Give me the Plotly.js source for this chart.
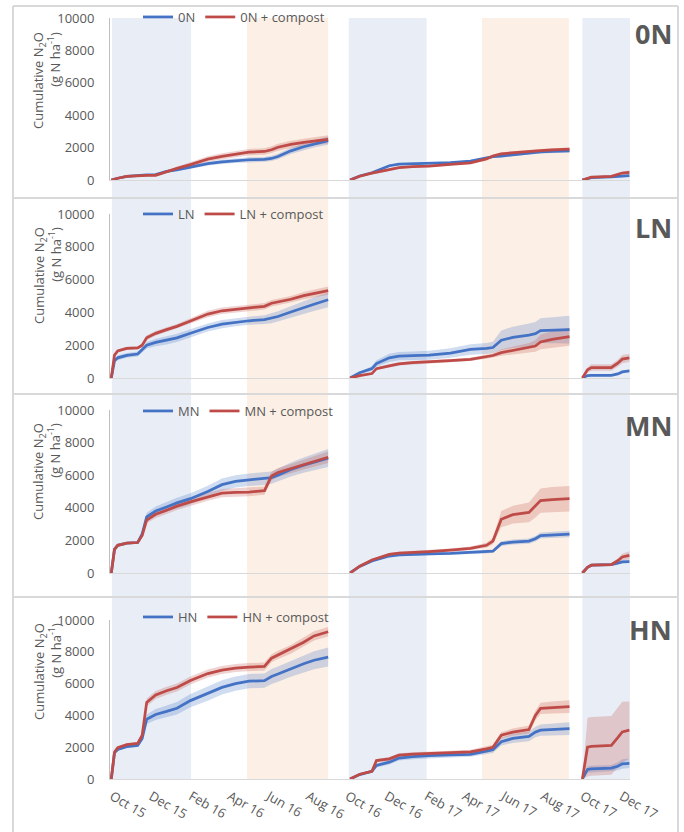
<!DOCTYPE html>
<html>
<head>
<meta charset="utf-8">
<script src="https://cdn.plot.ly/plotly-3.0.1.min.js"></script>
<style>html,body{margin:0;padding:0;background:#fff;}#chart{width:684px;height:832px;}</style>
</head>
<body>
<div id="chart"></div>
<script>
// ---------------- DATA ----------------
const treatments = ['0N', 'LN', 'MN', 'HN'];
const compostSuffix = ' + compost';

const season1Dates = ['2015-09-30','2015-10-05','2015-10-10','2015-10-24','2015-11-10','2015-11-17','2015-11-24','2015-12-08','2015-12-25','2016-01-10','2016-01-31','2016-02-27','2016-03-20','2016-04-10','2016-05-01','2016-05-25','2016-06-05','2016-06-15','2016-07-05','2016-07-25','2016-08-10','2016-09-01'];
const season2Dates = ['2016-10-05','2016-10-20','2016-11-08','2016-11-15','2016-12-05','2016-12-20','2017-01-10','2017-02-05','2017-03-10','2017-04-10','2017-05-05','2017-05-15','2017-05-28','2017-06-15','2017-07-10','2017-07-20','2017-07-28','2017-08-15','2017-09-11'];
const season3Dates = ['2017-10-01','2017-10-09','2017-10-15','2017-11-15','2017-11-25','2017-12-02','2017-12-13'];

// winter (blue) and summer (orange) periods
const winterStart = ['2015-10-01','2016-10-03','2017-10-01'];
const winterEnd   = ['2016-02-01','2017-02-01','2017-12-14'];
const summerStart = ['2016-04-28','2017-04-28'];
const summerEnd   = ['2016-09-01','2017-09-10'];

// ---- 0N ----
const n0_s1   = [0,60,110,220,290,300,310,330,530,620,800,1010,1120,1190,1250,1270,1330,1450,1800,2050,2230,2430];
const n0_s1se = [0,20,30,40,50,50,50,50,70,80,100,120,130,140,150,150,160,170,190,210,230,250];
const n0c_s1   = [0,60,110,220,280,290,290,290,520,720,950,1290,1460,1600,1720,1760,1870,2020,2200,2320,2400,2510];
const n0c_s1se = [0,20,30,40,50,50,50,60,80,100,130,170,190,200,200,200,210,220,230,230,240,250];
const n0_s2   = [0,250,450,560,880,980,1000,1030,1070,1170,1350,1440,1480,1560,1660,1700,1730,1770,1790];
const n0_s2se = [0,30,50,50,60,60,60,60,60,70,80,80,80,80,90,90,90,90,90];
const n0c_s2   = [0,230,420,470,620,760,820,860,960,1060,1300,1480,1620,1690,1760,1790,1820,1860,1910];
const n0c_s2se = [0,30,50,50,60,60,60,60,60,70,80,90,90,90,90,90,90,100,100];
const n0_s3   = [0,100,150,200,210,230,270];
const n0_s3se = [0,30,40,50,50,60,70];
const n0c_s3   = [0,110,180,230,330,430,470];
const n0c_s3se = [0,30,50,60,80,100,120];

// ---- LN ----
const ln_s1   = [0,1050,1230,1380,1460,1700,2000,2170,2300,2450,2730,3080,3280,3400,3490,3560,3640,3750,4020,4300,4500,4770];
const ln_s1se = [0,100,150,150,150,150,200,230,250,250,250,250,250,250,250,270,300,320,350,400,420,450];
const lnc_s1   = [0,1400,1650,1800,1840,2000,2450,2720,2950,3150,3480,3900,4100,4200,4270,4370,4560,4640,4800,5020,5170,5330];
const lnc_s1se = [0,100,100,100,100,120,150,150,150,150,170,200,200,200,200,200,200,200,200,220,230,250];
const ln_s2   = [0,320,570,880,1230,1330,1360,1390,1520,1740,1800,1860,2300,2480,2620,2700,2890,2920,2950];
const ln_s2se = [0,80,150,200,250,250,260,270,290,320,340,350,600,650,700,720,750,800,850];
const lnc_s2   = [0,140,270,570,740,860,940,980,1060,1130,1300,1370,1550,1680,1840,1950,2200,2350,2520];
const lnc_s2se = [0,50,60,80,100,100,100,100,100,100,120,130,200,250,300,350,450,500,550];
const ln_s3   = [0,150,160,160,250,370,430];
const ln_s3se = [0,30,40,40,50,60,70];
const lnc_s3   = [0,500,640,640,900,1150,1230];
const lnc_s3se = [0,150,200,200,220,250,250];

// ---- MN ----
const mn_s1   = [0,1450,1700,1830,1870,2400,3450,3800,4050,4300,4560,5000,5420,5620,5720,5780,5850,6000,6350,6620,6800,7050];
const mn_s1se = [0,50,50,50,60,150,250,280,300,320,330,350,380,380,380,380,380,400,430,470,500,550];
const mnc_s1   = [0,1450,1700,1830,1870,2300,3250,3600,3850,4100,4360,4680,4900,4950,4960,5050,5950,6170,6400,6650,6850,7100];
const mnc_s1se = [0,50,50,50,60,120,200,220,230,230,230,250,250,250,250,250,260,270,280,300,320,350];
const mn_s2   = [0,400,740,830,1040,1110,1150,1180,1210,1250,1290,1340,1800,1900,1960,2100,2300,2340,2390];
const mn_s2se = [0,40,60,60,80,80,80,80,80,90,100,100,150,150,160,170,180,190,200];
const mnc_s2   = [0,420,800,890,1140,1220,1280,1310,1400,1510,1700,1960,3300,3580,3720,4100,4440,4500,4560];
const mnc_s2se = [0,40,60,70,80,80,80,90,100,120,150,200,500,550,600,700,750,770,780];
const mn_s3   = [0,350,480,520,600,680,700];
const mn_s3se = [0,50,60,60,70,80,80];
const mnc_s3   = [0,350,480,520,750,980,1080];
const mnc_s3se = [0,60,80,80,150,200,250];

// ---- HN ----
const hn_s1   = [0,1650,1860,2030,2110,2550,3760,4060,4250,4450,4930,5370,5760,6000,6150,6190,6450,6600,6930,7250,7470,7670];
const hn_s1se = [0,60,80,80,80,150,300,350,380,400,420,450,450,450,450,450,470,480,500,540,560,600];
const hnc_s1   = [0,1700,1970,2160,2240,2750,4820,5280,5550,5750,6190,6630,6850,6980,7040,7080,7600,7800,8150,8600,9000,9260];
const hnc_s1se = [0,60,80,80,80,120,250,250,250,250,250,250,250,250,250,250,250,260,270,280,290,300];
const hn_s2   = [0,280,480,850,1060,1320,1400,1470,1510,1550,1750,1840,2350,2550,2680,2950,3070,3120,3170];
const hn_s2se = [0,50,80,120,150,150,150,150,150,150,180,200,250,280,300,330,350,370,400];
const hnc_s2   = [0,300,490,1160,1270,1500,1560,1590,1640,1700,1900,1990,2750,2950,3110,4000,4440,4500,4550];
const hnc_s2se = [0,50,80,100,120,120,120,120,130,140,150,170,200,220,250,300,350,380,400];
const hn_s3   = [0,600,630,680,800,950,990];
const hn_s3se = [0,200,200,200,250,300,300];
const hnc_s3   = [0,2000,2050,2110,2600,2960,3070];
const hnc_s3se = [0,1850,1850,1850,1900,1900,1800];

// ---------------- BUILD ----------------
const seasons = [season1Dates, season2Dates, season3Dates];
const panels = [
  {base:[n0_s1,n0_s2,n0_s3], baseSe:[n0_s1se,n0_s2se,n0_s3se], comp:[n0c_s1,n0c_s2,n0c_s3], compSe:[n0c_s1se,n0c_s2se,n0c_s3se]},
  {base:[ln_s1,ln_s2,ln_s3], baseSe:[ln_s1se,ln_s2se,ln_s3se], comp:[lnc_s1,lnc_s2,lnc_s3], compSe:[lnc_s1se,lnc_s2se,lnc_s3se]},
  {base:[mn_s1,mn_s2,mn_s3], baseSe:[mn_s1se,mn_s2se,mn_s3se], comp:[mnc_s1,mnc_s2,mnc_s3], compSe:[mnc_s1se,mnc_s2se,mnc_s3se]},
  {base:[hn_s1,hn_s2,hn_s3], baseSe:[hn_s1se,hn_s2se,hn_s3se], comp:[hnc_s1,hnc_s2,hnc_s3], compSe:[hnc_s1se,hnc_s2se,hnc_s3se]}
];

const FONT = 'Open Sans, sans-serif';
const GREY = '#595959';
const BLUE = '#4472c4';
const RED = '#be4b48';
const BLUE_BAND = 'rgba(68,114,196,0.25)';
const RED_BAND = 'rgba(192,80,77,0.25)';

function band(dates, vals, se, color, xa, ya) {
  const up = vals.map((v, i) => v + se[i]);
  const lo = vals.map((v, i) => Math.max(0, v - se[i]));
  return {
    x: dates.concat(dates.slice().reverse()),
    y: up.concat(lo.slice().reverse()),
    xaxis: xa, yaxis: ya, type: 'scatter', mode: 'lines',
    fill: 'toself', fillcolor: color, line: {width: 0, color: 'rgba(0,0,0,0)'},
    hoverinfo: 'skip', showlegend: false
  };
}

const traces = [];
panels.forEach((p, i) => {
  const xa = i === 0 ? 'x' : 'x' + (i + 1);
  const ya = i === 0 ? 'y' : 'y' + (i + 1);
  const lg = i === 0 ? 'legend' : 'legend' + (i + 1);
  seasons.forEach((d, s) => {
    traces.push(band(d, p.base[s], p.baseSe[s], BLUE_BAND, xa, ya));
    traces.push(band(d, p.comp[s], p.compSe[s], RED_BAND, xa, ya));
  });
  seasons.forEach((d, s) => {
    traces.push({x: d, y: p.base[s], xaxis: xa, yaxis: ya, type: 'scatter', mode: 'lines',
      line: {color: BLUE, width: 2.75}, name: treatments[i], legend: lg,
      legendgroup: 'b' + i, showlegend: s === 0});
  });
  seasons.forEach((d, s) => {
    traces.push({x: d, y: p.comp[s], xaxis: xa, yaxis: ya, type: 'scatter', mode: 'lines',
      line: {color: RED, width: 2.75}, name: treatments[i] + compostSuffix, legend: lg,
      legendgroup: 'r' + i, showlegend: s === 0});
  });
});

// ---------------- LAYOUT ----------------
const W = 684, H = 832, ML = 110, MR = 54, MT = 18, MB = 53;
const PW = W - ML - MR, PH = H - MT - MB;
const px2x = px => (px - ML) / PW;
const py2y = py => (H - MB - py) / PH;

const domains = [[py2y(180), 1], [py2y(378), py2y(214)], [py2y(573), py2y(410)], [0, py2y(620)]];

const xBase = {type: 'date', range: ['2015-09-28', '2017-12-14'], showgrid: false, zeroline: false,
  showline: true, linecolor: '#d9d9d9', linewidth: 1, ticks: '', showticklabels: false, fixedrange: true};
const yBase = {range: [0, 10000], dtick: 2000, tick0: 0, tickformat: 'd', showgrid: false, zeroline: false,
  showline: true, linecolor: '#bfbfbf', linewidth: 1, ticks: '', ticklabelstandoff: 12,
  tickfont: {family: FONT, size: 13, color: GREY}, fixedrange: true};

const layout = {
  width: W, height: H,
  margin: {l: ML, r: MR, t: MT, b: MB, pad: 0, autoexpand: false},
  paper_bgcolor: '#ffffff', plot_bgcolor: 'rgba(0,0,0,0)',
  font: {family: FONT, size: 13, color: GREY},
  shapes: [], annotations: []
};

const legendY = [17, 214, 411, 617];
const labelY = [33, 228, 425, 629];
const titleY = [81, 276, 472, 672];

for (let i = 0; i < 4; i++) {
  const sfx = i === 0 ? '' : String(i + 1);
  const xs = Object.assign({}, xBase, {anchor: 'y' + sfx});
  if (i > 0) xs.matches = 'x';
  if (i === 3) Object.assign(xs, {showticklabels: true, tickformat: '%b %y', dtick: 'M2',
    tick0: '2015-10-01', tickangle: 30, ticklabelstandoff: 4,
    tickfont: {family: FONT, size: 13, color: GREY}});
  layout['xaxis' + sfx] = xs;
  layout['yaxis' + sfx] = Object.assign({}, yBase, {anchor: 'x' + sfx, domain: domains[i]});
  layout['legend' + sfx] = {orientation: 'h', x: px2x(138), xanchor: 'left', y: py2y(legendY[i]),
    yanchor: 'middle', bgcolor: 'rgba(0,0,0,0)', font: {family: FONT, size: 13, color: GREY},
    traceorder: 'normal', itemclick: false, itemdoubleclick: false};
  layout.annotations.push({xref: 'paper', yref: 'paper', x: px2x(674), y: py2y(labelY[i]),
    xanchor: 'right', yanchor: 'middle', showarrow: false, text: '<b>' + treatments[i] + '</b>',
    font: {family: FONT, size: 27, color: GREY}});
  layout.annotations.push({xref: 'paper', yref: 'paper', x: px2x(47), y: py2y(titleY[i]),
    xanchor: 'center', yanchor: 'middle', showarrow: false, textangle: -90, align: 'right',
    text: 'Cumulative N<sub>2</sub>O<br>(g N ha<sup>-1</sup>)',
    font: {family: FONT, size: 13, color: GREY}});
}

// seasonal background bands
winterStart.forEach((s, k) => layout.shapes.push({type: 'rect', xref: 'x', yref: 'paper',
  x0: s, x1: winterEnd[k], y0: 0, y1: 1, fillcolor: '#e9eef6', line: {width: 0}, layer: 'below'}));
summerStart.forEach((s, k) => layout.shapes.push({type: 'rect', xref: 'x', yref: 'paper',
  x0: s, x1: summerEnd[k], y0: 0, y1: 1, fillcolor: '#fcf0e6', line: {width: 0}, layer: 'below'}));

// panel frames
const BORDER = {color: '#d9d9d9', width: 2};
const fx0 = px2x(13), fx1 = px2x(678);
[6, 198, 394, 597].forEach(py => layout.shapes.push({type: 'line', xref: 'paper', yref: 'paper',
  x0: fx0, x1: fx1, y0: py2y(py), y1: py2y(py), line: BORDER, layer: 'below'}));
[fx0, fx1].forEach(x => layout.shapes.push({type: 'line', xref: 'paper', yref: 'paper',
  x0: x, x1: x, y0: py2y(6), y1: py2y(834), line: BORDER, layer: 'below'}));

Plotly.newPlot('chart', traces, layout, {displayModeBar: false, staticPlot: true});
</script>
</body>
</html>
